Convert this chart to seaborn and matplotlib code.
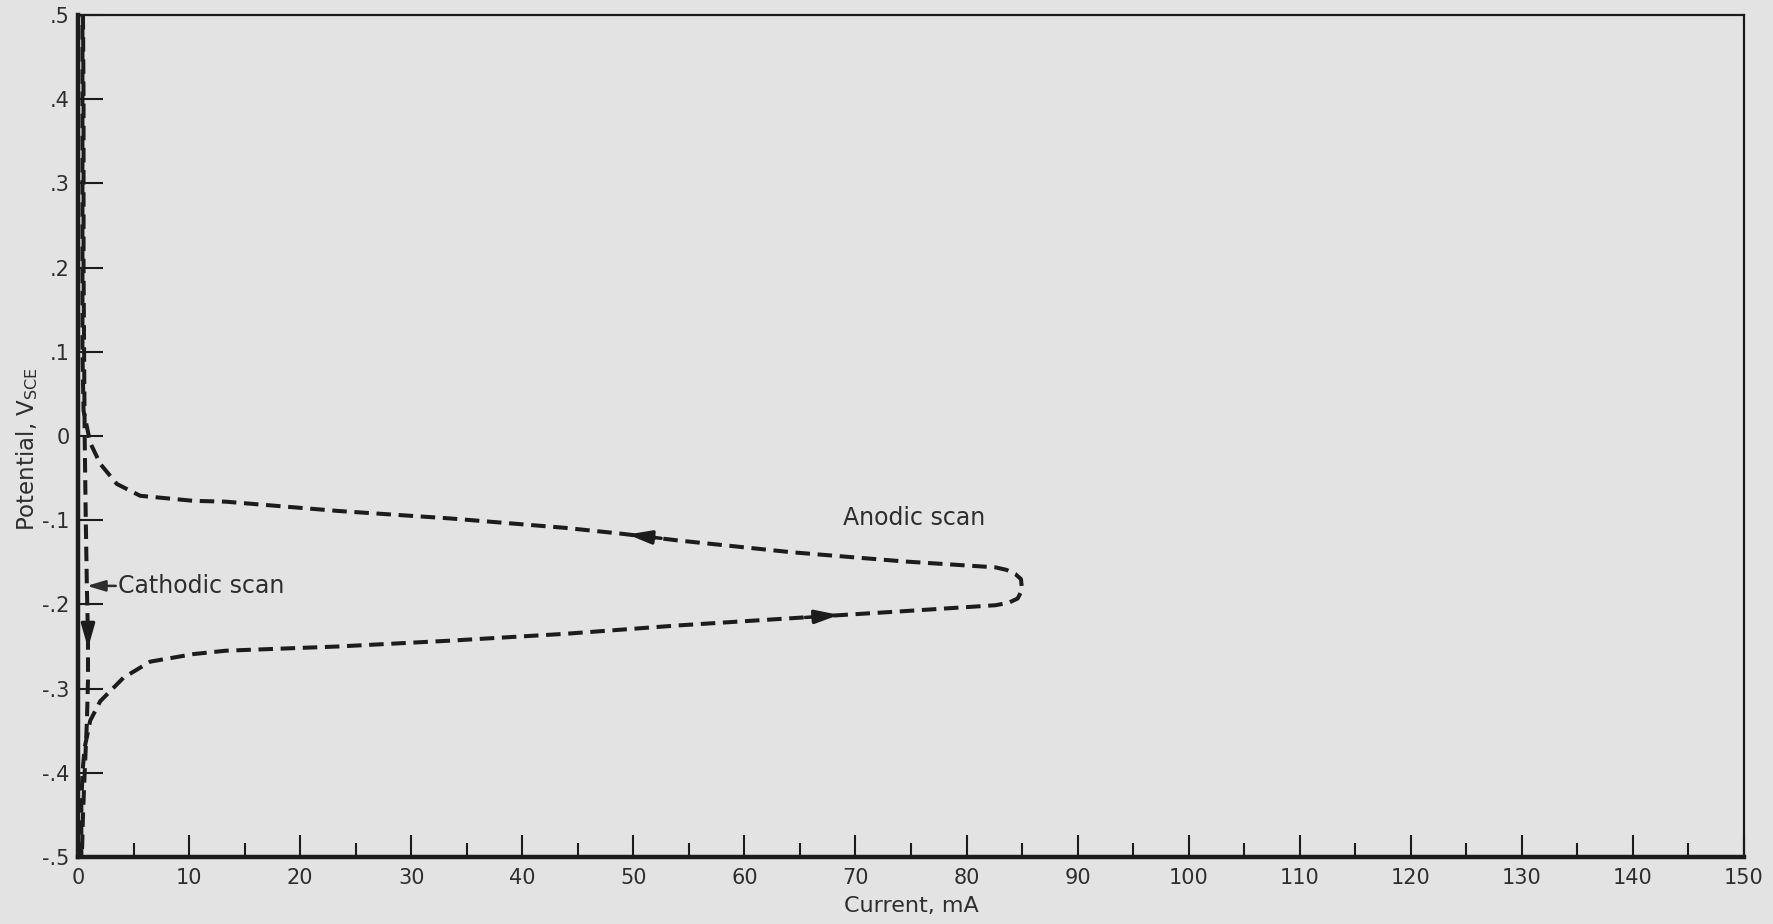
import numpy as np
import pandas as pd
import matplotlib
matplotlib.use("Agg")
import matplotlib.pyplot as plt
import seaborn as sns

# ---------------- data ----------------
# Cathodic scan: potential swept downward, current stays near zero
cath_current = [0.45, 0.5, 0.5, 0.55, 0.6, 0.7, 0.8, 0.9, 0.9, 0.8, 0.6, 0.45, 0.35]
cath_potential = [0.5, 0.4, 0.2, 0.1, 0.0, -0.1, -0.18, -0.24, -0.29, -0.34, -0.4, -0.45, -0.5]

# Anodic scan: from -0.5 V upward, current loop out to ~85 mA
anod_current = [0.3, 0.3, 0.4, 0.6, 1.1, 2.0, 4.1, 6.5, 10.4, 13.3, 23.4, 33.6, 43.8,
                54.0, 68.3, 74.4, 82.6, 83.8, 84.6, 85.0, 84.9, 84.4, 83.6, 82.6,
                74.4, 64.2, 54.0, 48.9, 43.8, 33.6, 23.4, 13.3, 10.4, 5.6, 3.5,
                2.0, 1.1, 0.5, 0.4, 0.4]
anod_potential = [-0.5, -0.44, -0.40, -0.37, -0.338, -0.315, -0.287, -0.268, -0.259,
                  -0.255, -0.250, -0.243, -0.235, -0.225, -0.213, -0.208, -0.201,
                  -0.198, -0.193, -0.183, -0.170, -0.164, -0.159, -0.156, -0.149,
                  -0.138, -0.124, -0.116, -0.109, -0.098, -0.089, -0.078, -0.077,
                  -0.071, -0.057, -0.033, -0.008, 0.03, 0.10, 0.5]

# direction arrows on the curves: (tail, head) in data units
arrow_tail_x = [0.9, 52.5, 65.5]
arrow_tail_y = [-0.222, -0.1215, -0.2155]
arrow_head_x = [0.9, 49.5, 68.5]
arrow_head_y = [-0.252, -0.117, -0.2125]

x_ticks = list(range(0, 151, 10))
x_ticklabels = [str(v) for v in x_ticks]
x_minor = list(range(5, 150, 10))
y_ticks = [0.5, 0.4, 0.3, 0.2, 0.1, 0.0, -0.1, -0.2, -0.3, -0.4, -0.5]
y_ticklabels = [".5", ".4", ".3", ".2", ".1", "0", "-.1", "-.2", "-.3", "-.4", "-.5"]

# ---------------- style ----------------
sns.set_style("ticks")
plt.rcParams["font.family"] = ["DejaVu Sans"]
BG = "#e3e3e3"
INK = "#1c1c1c"
TXT = "#2e2e2e"

fig = plt.figure(figsize=(17.74, 9.24), dpi=100, facecolor=BG)
ax = fig.add_axes([78 / 1774, 1 - 857 / 924, (1744 - 78) / 1774, (857 - 15) / 924])
ax.set_facecolor(BG)

dash = (0, (3.6, 1.9))
cath_df = pd.DataFrame({"current": cath_current, "potential": cath_potential})
anod_df = pd.DataFrame({"current": anod_current, "potential": anod_potential})
sns.lineplot(data=cath_df, x="current", y="potential", sort=False, estimator=None,
             color=INK, linewidth=2.9, linestyle=dash, ax=ax)
sns.lineplot(data=anod_df, x="current", y="potential", sort=False, estimator=None,
             color=INK, linewidth=2.9, linestyle=dash, ax=ax)

for tx, ty, hx, hy in zip(arrow_tail_x, arrow_tail_y, arrow_head_x, arrow_head_y):
    ax.annotate("", xy=(hx, hy), xytext=(tx, ty),
                arrowprops=dict(arrowstyle="-|>,head_length=0.7,head_width=0.2",
                                mutation_scale=20, color=INK, lw=2.5,
                                shrinkA=0, shrinkB=0))

# labels in the plot
ax.annotate("", xy=(0.8, -0.178), xytext=(3.4, -0.178),
            arrowprops=dict(arrowstyle="-|>,head_length=0.5,head_width=0.15",
                            mutation_scale=22, color=TXT, lw=1.8,
                            shrinkA=0, shrinkB=0))
ax.text(3.6, -0.178, "Cathodic scan", fontsize=17, color=TXT, ha="left", va="center")
ax.text(75.3, -0.097, "Anodic scan", fontsize=17, color=TXT, ha="center", va="center")

# axes
ax.set_xlim(0, 150)
ax.set_ylim(-0.5, 0.5)
ax.set_xticks(x_ticks)
ax.set_xticklabels(x_ticklabels)
ax.set_xticks(x_minor, minor=True)
ax.set_yticks(y_ticks)
ax.set_yticklabels(y_ticklabels)
ax.tick_params(axis="x", which="major", direction="in", length=16, width=1.5,
               colors=INK, labelcolor=TXT, labelsize=15, pad=8)
ax.tick_params(axis="x", which="minor", direction="in", length=10, width=1.5, colors=INK)
ax.tick_params(axis="y", which="major", direction="in", length=18, width=1.5,
               colors=INK, labelcolor=TXT, labelsize=15, pad=6)
ax.tick_params(top=False, right=False)

for side in ["left", "bottom"]:
    ax.spines[side].set_linewidth(3.2)
    ax.spines[side].set_color(INK)
for side in ["top", "right"]:
    ax.spines[side].set_linewidth(1.6)
    ax.spines[side].set_color(INK)
    ax.spines[side].set_visible(True)

ax.set_xlabel("Current, mA", fontsize=16, color=TXT)
ax.set_ylabel("Potential, V$_{\\mathregular{SCE}}$", fontsize=16.5, color=TXT)
ax.xaxis.set_label_coords(0.5, -0.046)
ax.yaxis.set_label_coords(-0.023, 0.484)

fig.savefig("out.png", dpi=100, facecolor=BG)
